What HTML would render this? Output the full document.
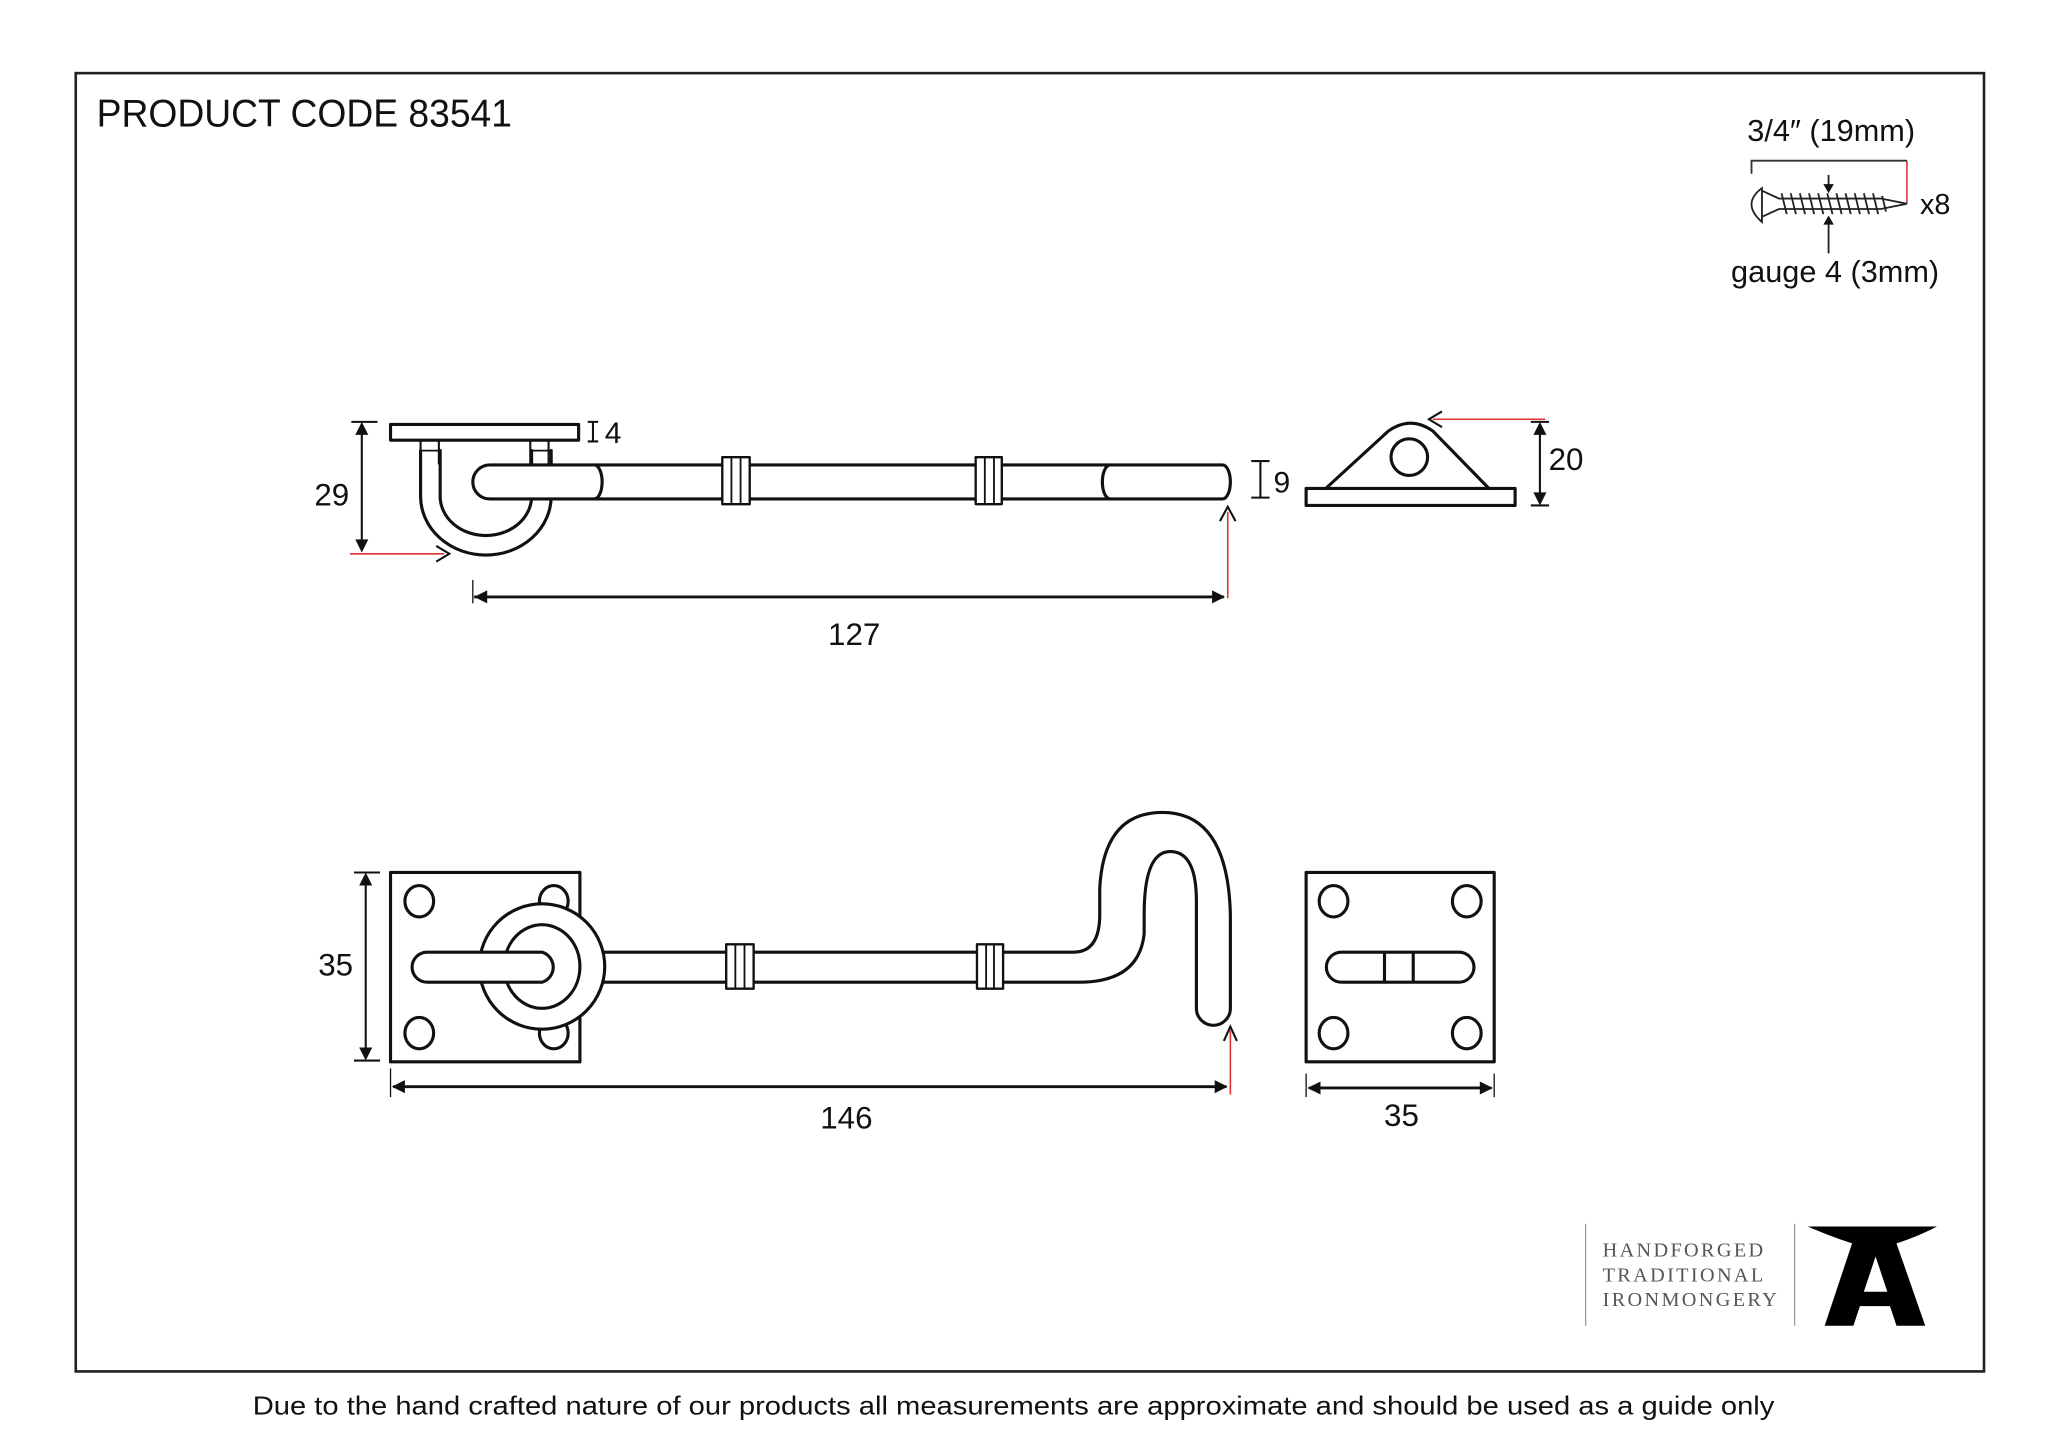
<!DOCTYPE html>
<html><head><meta charset="utf-8"><style>
html,body{margin:0;padding:0;background:#fff;}
svg{display:block;}
text{font-family:"Liberation Sans",sans-serif;fill:#111;}
</style></head><body>
<svg width="2048" height="1449" viewBox="0 0 1568 1109.4" preserveAspectRatio="none" xmlns="http://www.w3.org/2000/svg">
<rect x="0" y="0" width="1568" height="1110" fill="#fff"/>
<rect x="58" y="56" width="1461" height="994" fill="none" stroke="#222" stroke-width="2"/>
<text x="74" y="97" font-size="30" textLength="318" lengthAdjust="spacingAndGlyphs">PRODUCT CODE 83541</text>

<g fill="none" stroke="#111" stroke-width="2.4" stroke-linecap="round" stroke-linejoin="round">
<!-- TOP VIEW hook -->
<rect x="299" y="325" width="144" height="12" fill="#fff"/>
<path d="M322 337 V355 M336 337 V355 M406 337 V355 M420 337 V355" stroke-width="1.6"/>
<path d="M322 345 L322 380 A50 45 0 0 0 422 380 L422 345 M337 345 L337 380 A35 30 0 0 0 407 380 L407 345"/>
<path d="M322 345 H337 M407 345 H422" stroke-width="1.4"/>
<path d="M375 356 H455 A6 13 0 0 1 455 382 H375 A13 13 0 0 1 375 356 Z" fill="#fff"/>
<path d="M455 356 H553 M574 356 H747 M767 356 H850 M455 382 H553 M574 382 H747 M767 382 H850"/>
<path d="M850 356 H936 A6 13 0 0 1 936 382 H850 A6 13 0 0 1 850 356 Z"/>
<rect x="553" y="350" width="21" height="36" stroke-width="1.8" fill="#fff"/>
<rect x="747" y="350" width="20" height="36" stroke-width="1.8" fill="#fff"/>
<path d="M560 350 V386 M567 350 V386 M754 350 V386 M761 350 V386" stroke-width="1.4"/>
<!-- keep top -->
<rect x="1000" y="374" width="160" height="13"/>
<path d="M1015 374 L1063 330 Q1080 318 1097 330 L1140 374"/>
<circle cx="1079" cy="350" r="14"/>
<!-- BOTTOM VIEW -->
<rect x="299" y="668" width="145" height="145"/>
<ellipse cx="321" cy="690" rx="11" ry="12"/><ellipse cx="424" cy="690" rx="11" ry="12"/>
<ellipse cx="321" cy="791" rx="11" ry="12"/><ellipse cx="424" cy="791" rx="11" ry="12"/>
<circle cx="415" cy="740" r="48" fill="#fff"/>
<ellipse cx="415" cy="740" rx="29" ry="32"/>
<path d="M327 729 H415 A12 12 0 0 1 415 752 H327 A11.5 11.5 0 0 1 327 729 Z" fill="#fff"/>
<path d="M462 729 H556 M577 729 H748 M768 729 H822 Q842 729 842 700 L842 680 Q845 622 890 622 Q940 622 942 700 L942 772 A13 13 0 0 1 916 772 L916 690 Q916 652 896 652 Q876 652 876 700 L876 715 Q872 752 826 752 H768 M748 752 H577 M556 752 H462"/>
<rect x="556" y="723" width="21" height="34" stroke-width="1.8" fill="#fff"/>
<rect x="748" y="723" width="20" height="34" stroke-width="1.8" fill="#fff"/>
<path d="M563 723 V757 M570 723 V757 M755 723 V757 M761 723 V757" stroke-width="1.4"/>
<!-- keep bottom -->
<rect x="1000" y="668" width="144" height="145"/>
<ellipse cx="1021" cy="690" rx="11" ry="12"/><ellipse cx="1123" cy="690" rx="11" ry="12"/>
<ellipse cx="1021" cy="791" rx="11" ry="12"/><ellipse cx="1123" cy="791" rx="11" ry="12"/>
<path d="M1027 729 H1117 A11.5 11.5 0 0 1 1117 752 H1027 A11.5 11.5 0 0 1 1027 729 Z M1060 729 V752 M1082 729 V752"/>
</g>

<!-- dimensions -->
<g stroke="#111" stroke-width="1.6" fill="none">
<path d="M450 323 H458 M450 338 H458 M454 323 V338"/>
<path d="M958 353 H972 M958 381 H972 M965 353 V381"/>
<path d="M269 323 H289 M277 325 V421"/>
<path d="M362 444 V462" stroke-width="1"/>
<path d="M363 457 H937" stroke-width="2.2"/>
<path d="M1172 323 H1186 M1172 387 H1186 M1179 325 V385"/>
<path d="M271 668 H291 M271 812 H291 M280 670 V810"/>
<path d="M299 818 V840" stroke-width="1"/>
<path d="M301 832 H939" stroke-width="2.2"/>
<path d="M1000 822 V840 M1144 822 V840" stroke-width="1"/>
<path d="M1002 833 H1142" stroke-width="2.2"/>
</g>
<g fill="#111">
<path d="M277 323 L272 333 L282 333Z M277 423 L272 413 L282 413Z"/>
<path d="M363 457 L373 452 L373 462Z M938 457 L928 452 L928 462Z"/>
<path d="M1179 323 L1174 333 L1184 333Z M1179 387 L1174 377 L1184 377Z"/>
<path d="M280 668 L275 678 L285 678Z M280 812 L275 802 L285 802Z"/>
<path d="M300 832 L310 827 L310 837Z M940 832 L930 827 L930 837Z"/>
<path d="M1001 833 L1011 828 L1011 838Z M1143 833 L1133 828 L1133 838Z"/>
</g>
<g stroke="#e03030" stroke-width="1.2" fill="none">
<path d="M268 424 H340"/><path d="M940 392 V458"/><path d="M1097 321 H1183"/><path d="M942 789 V838"/><path d="M1460 123 V156"/>
</g>
<g stroke="#111" stroke-width="1.6" fill="none">
<path d="M334 418 L344 424 L334 430"/><path d="M934 399 L940 388 L946 399"/><path d="M1104 315 L1094 321 L1104 327"/><path d="M937 797 L942 786 L947 797"/>
</g>
<g font-size="24">
<text x="463" y="339" font-size="23">4</text>
<text x="975" y="377" font-size="23">9</text>
<text x="254" y="387" text-anchor="middle">29</text>
<text x="654" y="494" text-anchor="middle">127</text>
<text x="1199" y="360" text-anchor="middle">20</text>
<text x="257" y="747" text-anchor="middle">35</text>
<text x="648" y="864" text-anchor="middle">146</text>
<text x="1073" y="862" text-anchor="middle">35</text>
</g>

<!-- screw -->
<text x="1402" y="108" font-size="23.5" text-anchor="middle">3/4″ (19mm)</text>
<path d="M1341 133 V123 H1460" stroke="#333" stroke-width="1.4" fill="none"/>
<g stroke="#222" stroke-width="1.4" fill="none">
<path d="M1349 144 Q1333 156 1349 170 Z"/>
<path d="M1349 146 L1362 152 H1440 L1460 156 L1440 160 H1362 L1349 166"/>
<path d="M1364 148 l4 16 M1371 148 l4 16 M1378 148 l4 16 M1385 148 l4 16 M1392 148 l4 16 M1399 148 l4 16 M1406 148 l4 16 M1413 148 l4 16 M1420 148 l4 16 M1427 148 l4 16 M1434 148 l4 16 M1441 150 l3 12"/>
<path d="M1400 134 V145 M1400 194 V168"/>
</g>
<path d="M1400 148 L1396 141 L1404 141Z M1400 165 L1396 172 L1404 172Z" fill="#111"/>
<text x="1470" y="164" font-size="22">x8</text>
<text x="1405" y="216" font-size="23.5" text-anchor="middle">gauge 4 (3mm)</text>

<!-- logo -->
<path d="M1214 937 V1015 M1374 937 V1015" stroke="#999" stroke-width="1"/>
<g font-size="15.5" letter-spacing="1.8">
<text x="1227" y="962" style="fill:#555;font-family:'Liberation Serif',serif">HANDFORGED</text>
<text x="1227" y="981" style="fill:#555;font-family:'Liberation Serif',serif">TRADITIONAL</text>
<text x="1227" y="1000" style="fill:#555;font-family:'Liberation Serif',serif">IRONMONGERY</text>
</g>
<path d="M1384 939 L1483 939 Q1470 946 1452 952 L1474 1015 L1452 1015 L1447 1000 L1424 1000 L1419 1015 L1397 1015 L1418 952 Q1400 946 1384 939 Z M1436 962 L1445 989 L1427 989 Z" fill="#000" fill-rule="evenodd"/>

<text x="776" y="1083" font-size="20" text-anchor="middle" textLength="1165" lengthAdjust="spacingAndGlyphs">Due to the hand crafted nature of our products all measurements are approximate and should be used as a guide only</text>
</svg>
</body></html>
